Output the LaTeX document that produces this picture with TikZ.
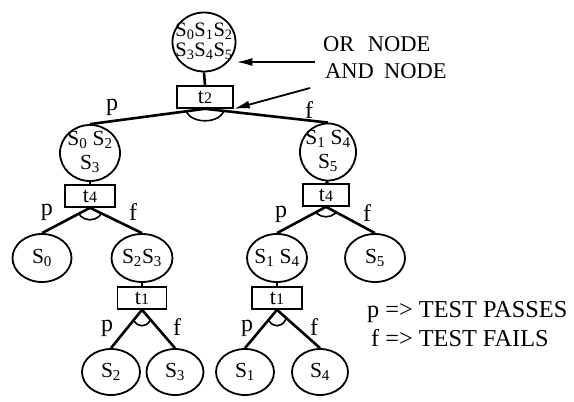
\documentclass[tikz,border=0pt]{standalone}
\usepackage{fontspec}
\setmainfont{Liberation Serif}
\usetikzlibrary{shapes.geometric,arrows.meta,calc}
\newcommand{\sx}[1]{S\textsubscript{#1}}
\newcommand{\tx}[1]{t{\fontsize{16}{16}\selectfont #1}}
\begin{document}
\begin{tikzpicture}[x=1pt,y=-1pt,
  state/.style={draw,ellipse,line width=1.8pt,inner sep=0pt},
  stxt/.style={font=\fontsize{21.5}{24}\selectfont,align=center,inner sep=0pt},
  ttxt/.style={font=\fontsize{20.5}{20}\selectfont,align=center,inner sep=0pt},
  test/.style={draw,rectangle,line width=1.6pt,minimum height=22pt,inner sep=0pt,font=\fontsize{22}{22}\selectfont},
  edge/.style={line width=2.6pt},
  andarc/.style={line width=1.6pt},
  lbl/.style={font=\fontsize{24}{24}\selectfont,inner sep=0pt},
  ptr/.style={line width=1.8pt,-{Latex[length=16pt,width=8pt]}},
  txt/.style={font=\fontsize{22.5}{22.5}\selectfont,inner sep=0pt,anchor=base west},
  legtxt/.style={font=\fontsize{24.3}{24.3}\selectfont,inner sep=0pt,anchor=base west}]
\useasboundingbox (0,0) rectangle (574,402);

% OR nodes (states) and AND nodes (tests)
\node[state,minimum width=63pt,minimum height=59pt,label={[ttxt,yshift=1pt]center:{\sx0\sx1\sx2\\\sx3\sx4\sx5}}] (top) at (204,42) {};
\node[test,minimum width=56pt] (t2) at (205,97) {\tx2};

\node[state,minimum width=60pt,minimum height=56pt,label={[stxt,yshift=1pt]center:{\sx0 \sx2\\\sx3}}] (m1) at (90,153) {};
\node[state,minimum width=56pt,minimum height=57pt,label={[stxt,yshift=1pt]center:{\sx1 \sx4\\\sx5}}] (m2) at (328,152) {};
\node[test,minimum width=50pt] (t4a) at (90,196) {\tx4};
\node[test,minimum width=46pt] (t4b) at (326,195) {\tx4};

\node[state,minimum width=59pt,minimum height=48pt,label={[stxt]center:{\sx0}}] (l1) at (42,258) {};
\node[state,minimum width=61pt,minimum height=48pt,label={[stxt]center:{\sx2\sx3}}] (l2) at (142,258) {};
\node[state,minimum width=60pt,minimum height=48pt,label={[stxt]center:{\sx1 \sx4}}] (l3) at (277,258) {};
\node[state,minimum width=60pt,minimum height=48pt,label={[stxt]center:{\sx5}}] (l4) at (375,258) {};
\node[test,minimum width=49pt] (t1a) at (142,298) {\tx1};
\node[test,minimum width=50pt] (t1b) at (277,298) {\tx1};

\node[state,minimum width=58pt,minimum height=46pt,label={[stxt]center:{\sx2}}] (b1) at (111,372) {};
\node[state,minimum width=57pt,minimum height=46pt,label={[stxt]center:{\sx3}}] (b2) at (175,372) {};
\node[state,minimum width=58pt,minimum height=46pt,label={[stxt]center:{\sx1}}] (b3) at (245,372) {};
\node[state,minimum width=56pt,minimum height=46pt,label={[stxt]center:{\sx4}}] (b4) at (320,372) {};

% state -> test links
\draw[edge] (top.south) -- (t2.north);
\draw[edge] (m1.south) -- (t4a.north);
\draw[edge] (m2.south) -- (t4b.north);
\draw[edge] (l2.south) -- (t1a.north);
\draw[edge] (l3.south) -- (t1b.north);

% test -> outcome links
\draw[edge] (t2.south) -- (m1.north);
\draw[edge] (t2.south) -- (m2.north);
\draw[edge] (t4a.south) -- (l1.north);
\draw[edge] (t4a.south) -- (l2.north);
\draw[edge] (t4b.south) -- (l3.north);
\draw[edge] (t4b.south) -- (l4.north);
\draw[edge] (t1a.south) -- (b1.north);
\draw[edge] (t1a.south) -- (b2.north);
\draw[edge] (t1b.south) -- (b3.north);
\draw[edge] (t1b.south) -- (b4.north);

% AND arcs
\begin{scope}
  \clip (t2.south) -- (m1.north) -- (m2.north) -- cycle;
  \draw[andarc] (t2.south) ellipse [x radius=19pt, y radius=12pt];
\end{scope}
\begin{scope}
  \clip (t4a.south) -- (l1.north) -- (l2.north) -- cycle;
  \draw[andarc] (t4a.south) ellipse [x radius=13pt, y radius=12pt];
\end{scope}
\begin{scope}
  \clip (t4b.south) -- (l3.north) -- (l4.north) -- cycle;
  \draw[andarc] (t4b.south) ellipse [x radius=12pt, y radius=10pt];
\end{scope}
\begin{scope}
  \clip (t1a.south) -- (b1.north) -- (b2.north) -- cycle;
  \draw[andarc] (t1a.south) ellipse [x radius=11pt, y radius=16pt];
\end{scope}
\begin{scope}
  \clip (t1b.south) -- (b3.north) -- (b4.north) -- cycle;
  \draw[andarc] (t1b.south) ellipse [x radius=11pt, y radius=16pt];
\end{scope}

% edge labels
\node[lbl] (p1) at (112,107) {p};
\node[lbl] (f1) at (309,110) {f};
\node[lbl] (p2) at (47,212) {p};
\node[lbl] (f2) at (133,212) {f};
\node[lbl] (p3) at (281,214) {p};
\node[lbl] (f3) at (367,213) {f};
\node[lbl] (p4) at (107,328) {p};
\node[lbl] (f4) at (177,327) {f};
\node[lbl] (p5) at (247,328) {p};
\node[lbl] (f5) at (314,327) {f};

% annotations
\node[txt] (ortxt) at (323,51) {OR\hspace{0.6em}NODE};
\node[txt] (andtxt) at (325,78) {AND\hspace{0.45em}NODE};
\coordinate (a1) at (315,62);
\coordinate (a2) at (310,88);
\draw[ptr] (a1) -- (a1 -| top.east);
\draw[ptr] (a2) -- (t2.south east);

% legend
\node[legtxt] (leg1) at (367,317) {p => TEST PASSES};
\node[legtxt] (leg2) at (371,346) {f => TEST FAILS};
\end{tikzpicture}
\end{document}
